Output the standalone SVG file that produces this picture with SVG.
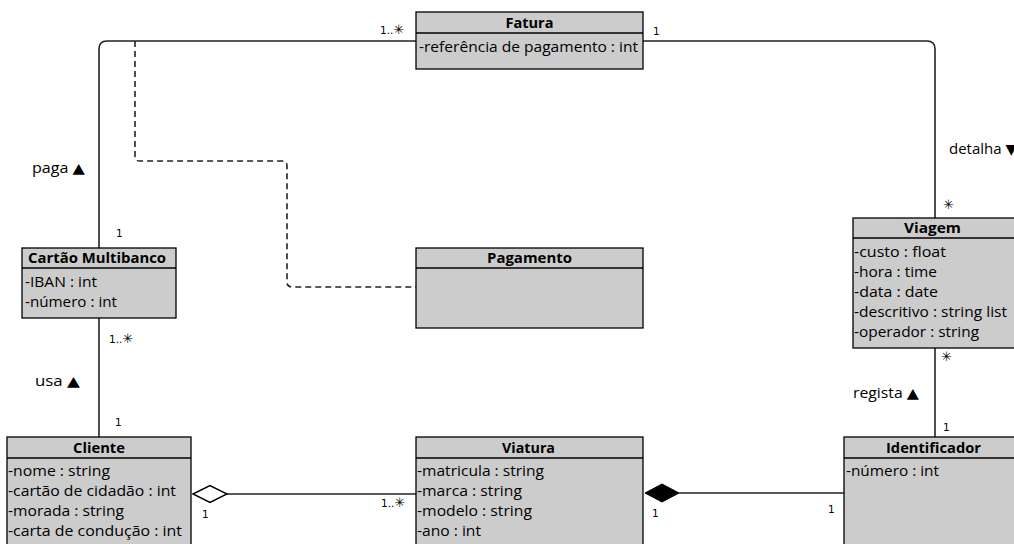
<svg xmlns="http://www.w3.org/2000/svg" width="1014" height="544" viewBox="0 0 1014 544">
  <style>
    .box { fill: #cccccc; stroke: #000000; stroke-width: 1.3; }
    .sep { stroke: #000000; stroke-width: 1.3; }
    .title { font-family: "Open Sans", "DejaVu Sans", sans-serif; font-size: 14px; font-weight: bold; fill: #000; text-anchor: middle; }
    .attr { font-family: "Open Sans", "DejaVu Sans", sans-serif; font-size: 14px; fill: #000; }
    .lbl { font-family: "Open Sans", "DejaVu Sans", sans-serif; font-size: 14px; fill: #000; }
    .mult { font-family: "DejaVu Sans", Verdana, sans-serif; font-size: 10.5px; fill: #000; }
    .star { font-size: 13px; }
    .edge { fill: none; stroke: #222222; stroke-width: 1.6; }
    .dash { fill: none; stroke: #222222; stroke-width: 1.6; stroke-dasharray: 6 4; }
  </style>

  <!-- associations -->
  <g id="connectors">
    <path class="edge" d="M416,41 H107 Q99,41 99,49 V248"/>
    <path class="edge" d="M643,41 H927 Q935,41 935,49 V218"/>
    <path class="dash" d="M135,41 V156 Q135,161 140,161 H282 Q287,161 287,166 V282 Q287,287 292,287 H416"/>
    <path class="edge" d="M99,318 V437"/>
    <path class="edge" d="M935,348 V437"/>
    <path class="edge" d="M227,494 H416"/>
    <path d="M193,494 L210,485.5 L227,494 L210,502.5 Z" fill="#ffffff" stroke="#000000" stroke-width="1.4"/>
    <path class="edge" d="M679,493 H844"/>
    <path d="M645,493 L662,484 L679,493 L662,502 Z" fill="#000000" stroke="#000000" stroke-width="1"/>

    <text class="mult" x="380" y="34">1..<tspan class="star">✳</tspan></text>
    <text class="mult" x="653" y="35">1</text>
    <text class="lbl" x="32" y="173" textLength="53" lengthAdjust="spacingAndGlyphs">paga ▲</text>
    <text class="mult" x="116" y="237">1</text>
    <text class="mult" x="109" y="343">1..<tspan class="star">✳</tspan></text>
    <text class="lbl" x="35" y="386" textLength="45" lengthAdjust="spacingAndGlyphs">usa ▲</text>
    <text class="mult" x="115" y="426">1</text>
    <text class="lbl" x="949" y="154" textLength="68" lengthAdjust="spacingAndGlyphs">detalha ▼</text>
    <text class="mult star" x="943" y="209">✳</text>
    <text class="mult star" x="941" y="361">✳</text>
    <text class="lbl" x="853" y="398" textLength="66" lengthAdjust="spacingAndGlyphs">regista ▲</text>
    <text class="mult" x="943" y="431">1</text>
    <text class="mult" x="202" y="518">1</text>
    <text class="mult" x="381" y="507">1..<tspan class="star">✳</tspan></text>
    <text class="mult" x="652" y="517">1</text>
    <text class="mult" x="828" y="513">1</text>
  </g>

  <g id="fatura">
    <rect class="box" x="416" y="12" width="227" height="57"/>
    <line class="sep" x1="416" y1="33" x2="643" y2="33"/>
    <text class="title" x="529.5" y="27.5" textLength="48" lengthAdjust="spacingAndGlyphs">Fatura</text>
    <text class="attr" x="419" y="52" textLength="219" lengthAdjust="spacingAndGlyphs">-referência de pagamento : int</text>
  </g>

  <g id="cartao-multibanco">
    <rect class="box" x="22" y="248" width="154" height="70"/>
    <line class="sep" x1="22" y1="268" x2="176" y2="268"/>
    <text class="title" x="97" y="263" textLength="138" lengthAdjust="spacingAndGlyphs">Cartão Multibanco</text>
    <text class="attr" x="25" y="287" textLength="72" lengthAdjust="spacingAndGlyphs">-IBAN : int</text>
    <text class="attr" x="25" y="307" textLength="92" lengthAdjust="spacingAndGlyphs">-número : int</text>
  </g>

  <g id="pagamento">
    <rect class="box" x="416" y="248" width="227" height="80"/>
    <line class="sep" x1="416" y1="268" x2="643" y2="268"/>
    <text class="title" x="529.5" y="263" textLength="85" lengthAdjust="spacingAndGlyphs">Pagamento</text>
  </g>

  <g id="viagem">
    <rect class="box" x="853" y="218" width="175" height="130"/>
    <line class="sep" x1="853" y1="238" x2="1028" y2="238"/>
    <text class="title" x="932.5" y="233" textLength="57" lengthAdjust="spacingAndGlyphs">Viagem</text>
    <text class="attr" x="854" y="257" textLength="92" lengthAdjust="spacingAndGlyphs">-custo : float</text>
    <text class="attr" x="854" y="277" textLength="83" lengthAdjust="spacingAndGlyphs">-hora : time</text>
    <text class="attr" x="854" y="297" textLength="84" lengthAdjust="spacingAndGlyphs">-data : date</text>
    <text class="attr" x="854" y="317" textLength="153" lengthAdjust="spacingAndGlyphs">-descritivo : string list</text>
    <text class="attr" x="854" y="337" textLength="125" lengthAdjust="spacingAndGlyphs">-operador : string</text>
  </g>

  <g id="cliente">
    <rect class="box" x="7" y="437" width="184" height="120"/>
    <line class="sep" x1="7" y1="458" x2="191" y2="458"/>
    <text class="title" x="99" y="453" textLength="52" lengthAdjust="spacingAndGlyphs">Cliente</text>
    <text class="attr" x="8" y="476" textLength="102" lengthAdjust="spacingAndGlyphs">-nome : string</text>
    <text class="attr" x="8" y="496" textLength="168" lengthAdjust="spacingAndGlyphs">-cartão de cidadão : int</text>
    <text class="attr" x="8" y="516" textLength="116" lengthAdjust="spacingAndGlyphs">-morada : string</text>
    <text class="attr" x="8" y="536" textLength="174" lengthAdjust="spacingAndGlyphs">-carta de condução : int</text>
  </g>

  <g id="viatura">
    <rect class="box" x="416" y="437" width="227" height="120"/>
    <line class="sep" x1="416" y1="458" x2="643" y2="458"/>
    <text class="title" x="528.5" y="453" textLength="53" lengthAdjust="spacingAndGlyphs">Viatura</text>
    <text class="attr" x="417" y="476" textLength="127" lengthAdjust="spacingAndGlyphs">-matricula : string</text>
    <text class="attr" x="417" y="496" textLength="105" lengthAdjust="spacingAndGlyphs">-marca : string</text>
    <text class="attr" x="417" y="516" textLength="115" lengthAdjust="spacingAndGlyphs">-modelo : string</text>
    <text class="attr" x="417" y="536" textLength="64" lengthAdjust="spacingAndGlyphs">-ano : int</text>
  </g>

  <g id="identificador">
    <rect class="box" x="844" y="437" width="184" height="120"/>
    <line class="sep" x1="844" y1="458" x2="1028" y2="458"/>
    <text class="title" x="933.5" y="453" textLength="95" lengthAdjust="spacingAndGlyphs">Identificador</text>
    <text class="attr" x="846" y="476" textLength="93" lengthAdjust="spacingAndGlyphs">-número : int</text>
  </g>
</svg>
